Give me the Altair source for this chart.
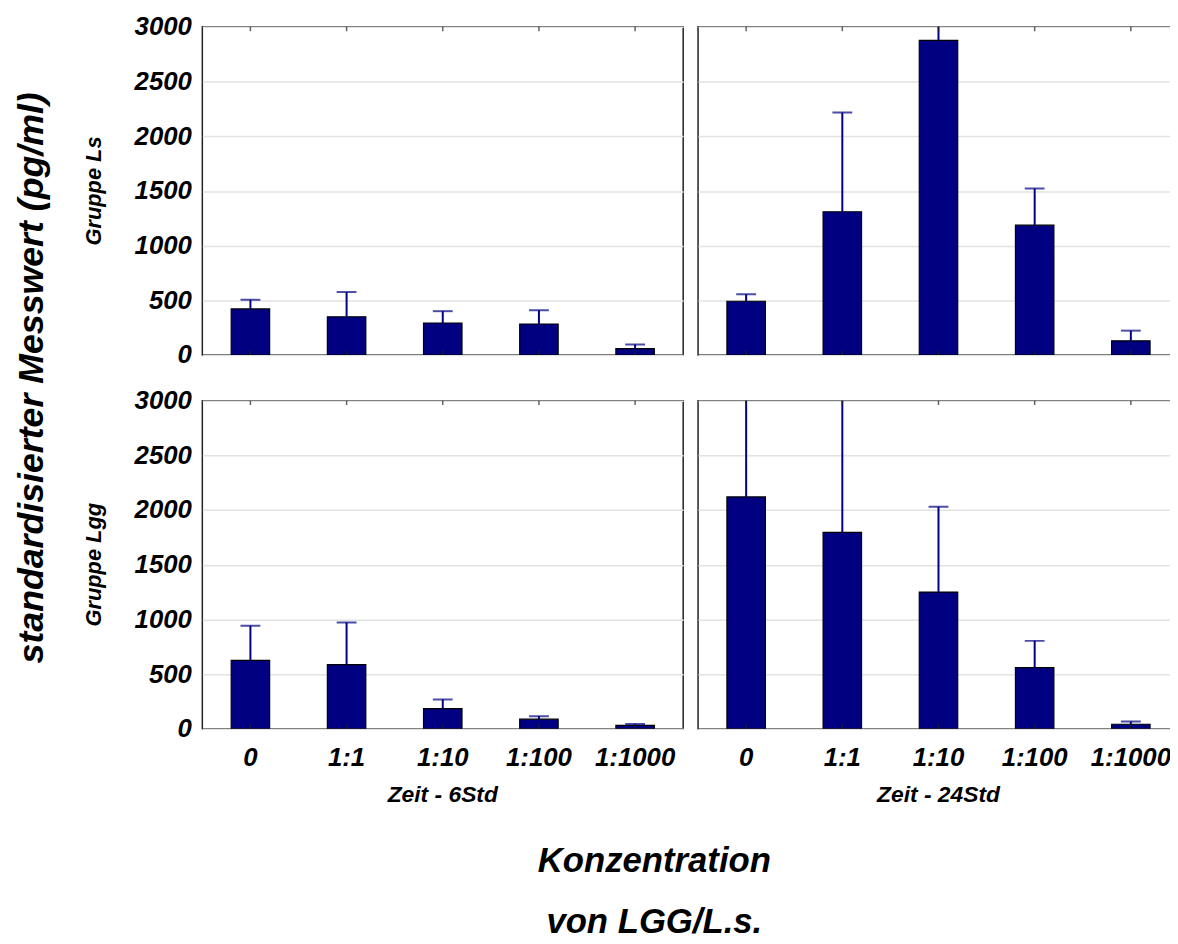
import altair as alt
import pandas as pd

konz = ["0", "1:1", "1:10", "1:100", "1:1000"]
gruppen = ["Gruppe Ls", "Gruppe Lgg"]
zeiten = ["Zeit - 6Std", "Zeit - 24Std"]

ls_6_mean = [422, 350, 293, 284, 58]
ls_6_upper = [505, 576, 401, 410, 97]
ls_24_mean = [492, 1310, 2877, 1187, 130]
ls_24_upper = [555, 2217, 3300, 1522, 223]
lgg_6_mean = [625, 587, 185, 88, 31]
lgg_6_upper = [943, 973, 269, 115, 45]
lgg_24_mean = [2120, 1795, 1250, 559, 42]
lgg_24_upper = [3600, 3500, 2030, 804, 66]

series = [
    ("Gruppe Ls", "Zeit - 6Std", ls_6_mean, ls_6_upper),
    ("Gruppe Ls", "Zeit - 24Std", ls_24_mean, ls_24_upper),
    ("Gruppe Lgg", "Zeit - 6Std", lgg_6_mean, lgg_6_upper),
    ("Gruppe Lgg", "Zeit - 24Std", lgg_24_mean, lgg_24_upper),
]
rows = []
for g, z, m, u in series:
    for k, mv, uv in zip(konz, m, u):
        rows.append({"gruppe": g, "zeit": z, "konz": k, "mean": mv, "upper": uv})
df = pd.DataFrame(rows)

FONT = "Liberation Sans"
NAVY = "#000080"

x = alt.X("konz:N", sort=konz, title=None,
          scale=alt.Scale(paddingInner=0.6, paddingOuter=0.3),
          axis=alt.Axis(labelAngle=0, labelFontSize=26, labelFont=FONT,
                        labelFontWeight="bold", labelFontStyle="italic",
                        labelColor="black", ticks=False, domain=False,
                        labelPadding=15))
yscale = alt.Scale(domain=[0, 3000], nice=False)
yaxis = alt.Axis(values=[0, 500, 1000, 1500, 2000, 2500, 3000], format="d",
                 labelFontSize=26, labelFont=FONT, labelFontWeight="bold",
                 labelFontStyle="italic", labelColor="black", ticks=False,
                 domain=False, labelPadding=10, gridColor="#e2e2e2",
                 gridWidth=1.5)

bars = alt.Chart().mark_bar(color=NAVY, stroke="black", strokeWidth=1.2, clip=True).encode(
    x=x,
    y=alt.Y("mean:Q", scale=yscale, axis=yaxis, title=None),
)
errs = alt.Chart().mark_rule(color=NAVY, strokeWidth=2, clip=True).encode(
    x=alt.X("konz:N", sort=konz),
    y=alt.Y("mean:Q"),
    y2="upper:Q",
)
caps = alt.Chart().mark_tick(color=NAVY, size=20, thickness=2, clip=True).encode(
    x=alt.X("konz:N", sort=konz),
    y=alt.Y("upper:Q"),
)
top_ticks = alt.Chart().mark_tick(orient="vertical", color="#222222", size=9,
                                  thickness=1.5, clip=True).encode(
    x=alt.X("konz:N", sort=konz),
    y=alt.datum(3000),
)
bottom_ticks = alt.Chart().mark_tick(orient="vertical", color="#222222", size=9,
                                     thickness=1.5, clip=True).encode(
    x=alt.X("konz:N", sort=konz),
    y=alt.datum(0),
)

chart = alt.layer(bars, errs, caps, top_ticks, bottom_ticks, data=df).properties(
    width=485, height=331
).facet(
    row=alt.Row("gruppe:N", sort=gruppen,
                header=alt.Header(title="standardisierter Messwert (pg/ml)",
                                  titleFont=FONT, titleFontSize=36,
                                  titleFontWeight="bold", titleFontStyle="italic",
                                  titleColor="black", titlePadding=23,
                                  labelFont=FONT, labelFontSize=22,
                                  labelFontWeight="bold", labelFontStyle="italic",
                                  labelColor="black", labelAngle=-90,
                                  labelPadding=18)),
    column=alt.Column("zeit:N", sort=zeiten,
                      header=alt.Header(title=None, labelOrient="bottom",
                                        labelFont=FONT, labelFontSize=23,
                                        labelFontWeight="bold",
                                        labelFontStyle="italic",
                                        labelColor="black", labelPadding=14)),
    spacing={"row": 44, "column": 13},
).properties(
    title=alt.TitleParams(["Konzentration", "von LGG/L.s."], orient="bottom",
                          anchor="middle", font=FONT, fontSize=35,
                          fontWeight="bold", fontStyle="italic", color="black",
                          lineHeight=62, offset=37, dx=58),
    padding={"left": 5, "top": 2, "right": -10, "bottom": 0},
).configure_view(
    stroke="#222222", strokeWidth=1.5
)

chart.save("out.html", embed_options={"renderer": "svg", "actions": False})
